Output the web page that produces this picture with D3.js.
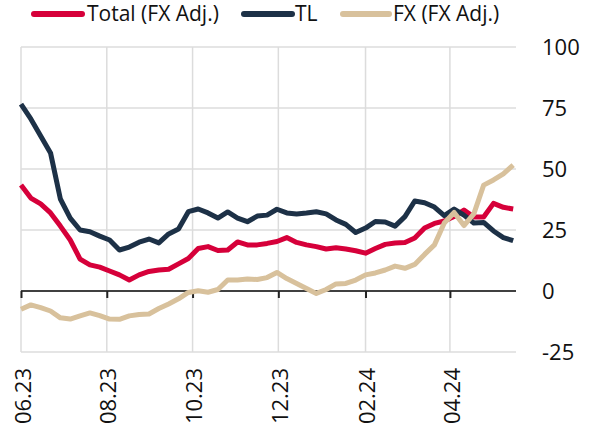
<!DOCTYPE html>
<html>
<head>
<meta charset="utf-8">
<script src="https://cdn.jsdelivr.net/npm/d3@7"></script>
<style>
  html, body { margin: 0; padding: 0; background: #fff; }
  svg { display: block; }
  text { font-family: "Open Sans", "Noto Sans", sans-serif; fill: #111; }
</style>
</head>
<body>
<svg id="chart" width="590" height="430"></svg>
<script>
// ---- data (weekly observations, starting 01.06.2023) ----
const startDate = "2023-06-01";
const stepDays = 7;

const totalFxAdj = [43.4, 38.1, 35.7, 32.0, 26.6, 20.9, 13.1, 10.7, 9.8, 8.2,
  6.6, 4.5, 6.6, 8.0, 8.6, 8.9, 11.1, 13.3, 17.4, 18.2,
  16.6, 16.8, 20.1, 18.9, 18.9, 19.5, 20.3, 21.9, 19.9, 18.9,
  18.2, 17.2, 17.7, 17.2, 16.5, 15.5, 17.4, 19.1, 19.7, 19.9,
  21.7, 25.8, 27.7, 28.7, 30.5, 33.2, 30.3, 30.3, 35.9, 34.3, 33.6];

const tl = [76.6, 70.5, 63.5, 56.6, 37.7, 29.9, 25.0, 24.3, 22.5, 20.9,
  16.8, 18.0, 20.0, 21.3, 19.7, 23.4, 25.4, 32.5, 33.6, 32.0,
  29.9, 32.4, 29.9, 28.4, 30.7, 31.1, 33.5, 32.0, 31.6, 32.0,
  32.5, 31.6, 29.1, 27.3, 24.0, 25.8, 28.5, 28.3, 26.6, 30.5,
  36.9, 36.2, 34.4, 30.9, 33.6, 31.1, 27.9, 28.1, 24.6, 21.9, 20.6];

const fxFxAdj = [-7.5, -5.7, -6.8, -8.2, -11.0, -11.5, -10.2, -9.0, -10.1, -11.5,
  -11.6, -10.2, -9.6, -9.4, -7.2, -5.3, -3.2, -0.6, 0.1, -0.5,
  0.6, 4.5, 4.5, 4.9, 4.7, 5.5, 7.6, 5.1, 3.1, 1.0,
  -1.0, 0.6, 2.9, 3.1, 4.5, 6.6, 7.4, 8.6, 10.2, 9.3,
  10.9, 15.0, 18.9, 27.9, 32.2, 26.8, 31.6, 43.4, 45.5, 48.0, 51.6];

const seriesNames = ["Total (FX Adj.)", "TL", "FX (FX Adj.)"];
const seriesColors = ["#d6003a", "#1d3147", "#d8c19c"];
const yTicks = [-25, 0, 25, 50, 75, 100];
const xTickDates = ["2023-06-01", "2023-08-01", "2023-10-01", "2023-12-01", "2024-02-01", "2024-04-01"];
const xTickFormat = "%m.%y";

// ---- layout ----
const svg = d3.select("#chart");
const mLeft = 21, mRight = 516, mTop = 47, mBottom = 352;

const parse = d3.timeParse("%Y-%m-%d");
const t0 = parse(startDate);
const dates = totalFxAdj.map((_, i) => d3.timeDay.offset(t0, i * stepDays));

const x = d3.scaleTime()
  .domain([new Date(2023, 5, 1), new Date(2024, 4, 18)])
  .range([mLeft, mRight]);
const y = d3.scaleLinear().domain([-25, 100]).range([mBottom, mTop]);

const xTicks = xTickDates.map(parse);

// gridlines
const grid = svg.append("g");
grid.selectAll("line.h").data(yTicks.filter(v => v !== 0)).join("line")
  .attr("class", "h")
  .attr("x1", mLeft).attr("x2", mRight)
  .attr("y1", d => y(d)).attr("y2", d => y(d))
  .attr("stroke", "#dcdcdc").attr("stroke-width", 1.5);
grid.selectAll("line.v").data(xTicks).join("line")
  .attr("class", "v")
  .attr("x1", d => x(d)).attr("x2", d => x(d))
  .attr("y1", mTop).attr("y2", mBottom)
  .attr("stroke", "#dcdcdc").attr("stroke-width", 1.5);

// zero axis with ticks
const xAxis = d3.axisBottom(x).tickValues(xTicks).tickSize(7).tickFormat("");
const gx = svg.append("g").attr("transform", `translate(0,${y(0)})`).call(xAxis);
gx.select(".domain").attr("stroke", "#404040").attr("stroke-width", 2)
  .attr("d", `M${mLeft},0H${mRight}`);
gx.selectAll(".tick line").attr("stroke", "#222").attr("stroke-width", 2);

// x labels (rotated)
const fmt = d3.timeFormat(xTickFormat);
svg.append("g").selectAll("text").data(xTicks).join("text")
  .attr("transform", d => `translate(${x(d) + 2},368) rotate(-90)`)
  .attr("text-anchor", "end")
  .attr("dy", "0.35em")
  .style("font-size", "22px")
  .text(d => fmt(d));

// y axis on right
const yAxis = d3.axisRight(y).tickValues(yTicks).tickSize(0).tickPadding(0).tickFormat(d => String(d));
const gy = svg.append("g").attr("transform", "translate(542,0)").call(yAxis);
gy.select(".domain").remove();
gy.selectAll("text").style("font-size", "22px").style("font-family", '"Open Sans", "Noto Sans", sans-serif').attr("fill", "#111").attr("x", 0).attr("dy", "0.34em");

// lines
const allSeries = [totalFxAdj, tl, fxFxAdj];
const line = d3.line().x((d, i) => x(dates[i])).y(d => y(d));
const order = [0, 1, 2];
order.forEach(k => {
  svg.append("path")
    .datum(allSeries[k])
    .attr("fill", "none")
    .attr("stroke", seriesColors[k])
    .attr("stroke-width", 5)
    .attr("stroke-linejoin", "round")
    .attr("d", line);
});

// legend
const legendItems = [
  { name: seriesNames[0], color: seriesColors[0], x1: 34, x2: 82, tx: 87 },
  { name: seriesNames[1], color: seriesColors[1], x1: 244, x2: 292, tx: 295 },
  { name: seriesNames[2], color: seriesColors[2], x1: 343, x2: 389, tx: 393 }
];
const lg = svg.append("g");
legendItems.forEach(it => {
  lg.append("line").attr("x1", it.x1).attr("x2", it.x2).attr("y1", 14).attr("y2", 14)
    .attr("stroke", it.color).attr("stroke-width", 6).attr("stroke-linecap", "round");
  lg.append("text").attr("x", it.tx).attr("y", 14).attr("dy", "0.35em")
    .style("font-size", "21px").text(it.name);
});
</script>
</body>
</html>
